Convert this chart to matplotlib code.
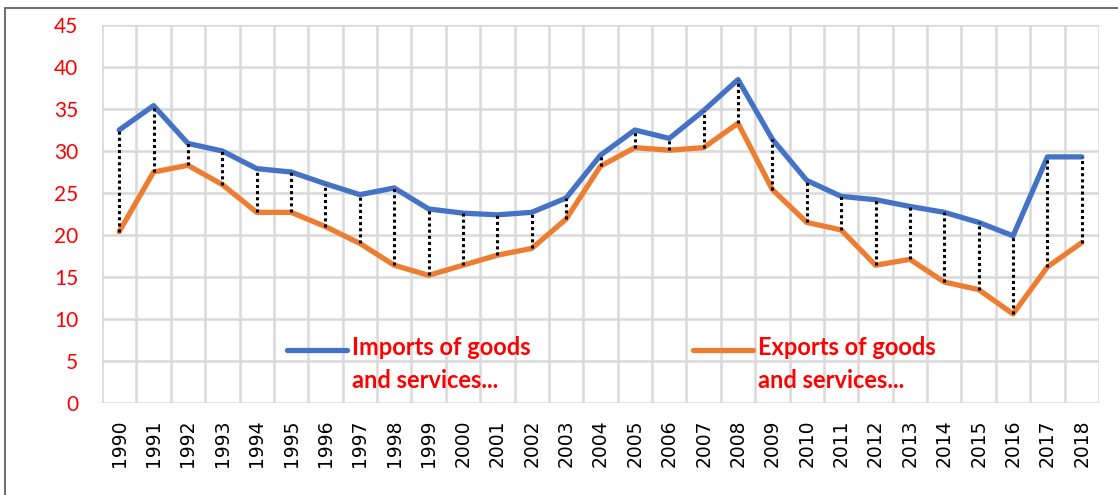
import numpy as np
import matplotlib.pyplot as plt
from matplotlib.patches import Rectangle
from matplotlib.lines import Line2D

years = list(range(1990, 2019))
imports = [32.5, 35.4, 30.9, 30.0, 27.9, 27.5, 26.1, 24.8, 25.6, 23.1,
           22.6, 22.4, 22.7, 24.4, 29.5, 32.5, 31.5, 34.8, 38.5, 31.4,
           26.5, 24.6, 24.2, 23.4, 22.7, 21.5, 19.9, 29.3, 29.3]
exports = [20.4, 27.5, 28.3, 26.0, 22.7, 22.7, 21.0, 19.0, 16.4, 15.2,
           16.4, 17.6, 18.4, 21.9, 28.2, 30.4, 30.1, 30.4, 33.3, 25.4,
           21.5, 20.6, 16.4, 17.1, 14.4, 13.5, 10.6, 16.2, 19.1]
labels = ["Imports of goods\nand services...", "Exports of goods\nand services..."]

blue = '#4472C4'
orange = '#ED7D31'
grid_c = '#d9d9d9'

fig = plt.figure(figsize=(11.18, 4.95), dpi=100)
ax = fig.add_axes([102/1118, 1-403/495, 997/1118, 378/495])

x = np.arange(len(years))
ax.plot(x, imports, color=blue, lw=3.8, solid_capstyle='round', zorder=3)
ax.plot(x, exports, color=orange, lw=3.8, solid_capstyle='round', zorder=3)
ax.vlines(x, exports, imports, colors='black', linestyles=(0, (1, 1.0)), lw=2.2, zorder=4)

ax.set_xlim(-0.5, len(years) - 0.5)
ax.set_ylim(0, 45)
ax.set_yticks(np.arange(0, 46, 5))
ax.set_xticks(x)
ax.set_xticklabels([str(y) for y in years], rotation=90, fontsize=13.5, color='black')
ax.set_xticks(np.arange(-0.5, len(years), 1), minor=True)
ax.grid(True, axis='y', which='major', color=grid_c, lw=1.8)
ax.grid(True, axis='x', which='minor', color=grid_c, lw=1.8)
ax.grid(False, axis='x', which='major')
ax.set_axisbelow(True)
for s in ax.spines.values():
    s.set_visible(False)
ax.tick_params(axis='both', which='both', length=0)
ax.tick_params(axis='x', pad=12)
ax.tick_params(axis='y', pad=17, labelcolor='#ff0000')
for t in ax.get_yticklabels():
    t.set_fontfamily('Lato')
    t.set_fontsize(15)

# legend drawn inside the plot
for col, lab, x0 in [(blue, labels[0], 0.1856), (orange, labels[1], 0.593)]:
    ax.add_line(Line2D([x0, x0 + 0.06], [0.14, 0.14], transform=ax.transAxes,
                       color=col, lw=3.8, solid_capstyle='round', zorder=5))
    ax.text(x0 + 0.065, 0.178, lab, transform=ax.transAxes, ha='left', va='top',
            color='#ff0000', fontsize=17, fontweight='bold', family='Lato',
            linespacing=1.55, zorder=5)

# outer frame
fig.patches.append(Rectangle((5/1118, -0.1), 1.2, 1 - 8/495 + 0.1, transform=fig.transFigure,
                             fill=False, edgecolor='#555555', lw=1.2))

plt.savefig("out.png", dpi=100)
